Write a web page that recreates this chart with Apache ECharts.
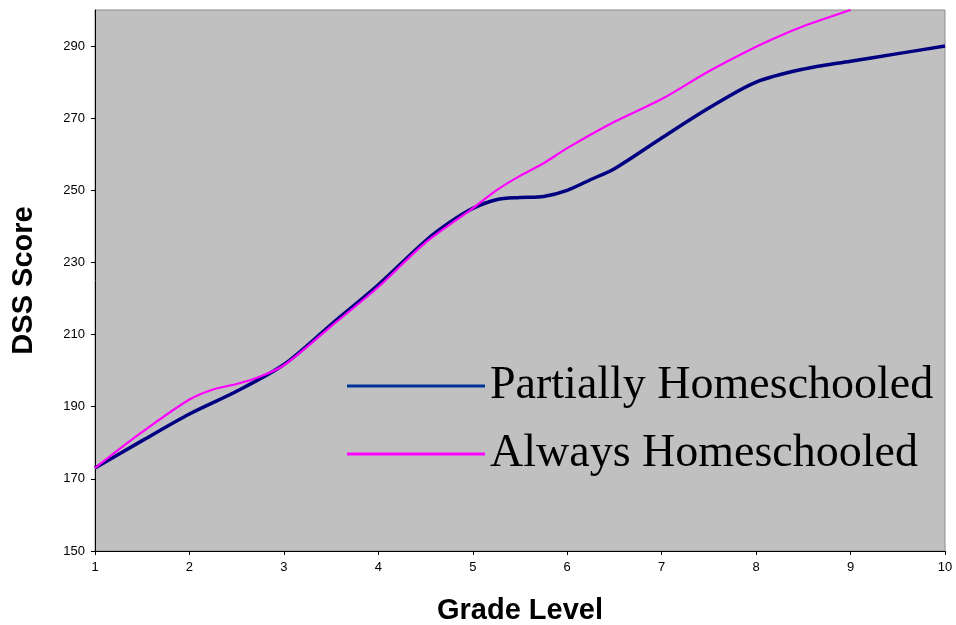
<!DOCTYPE html>
<html>
<head>
<meta charset="utf-8">
<script src="https://cdn.jsdelivr.net/npm/echarts@6/dist/echarts.min.js"></script>
<style>html,body{margin:0;padding:0;background:#fff}#c{width:956px;height:625px}</style>
</head>
<body>
<div id="c"></div>
<script>
const seriesNames = ['Partially Homeschooled', 'Always Homeschooled'];
const partialGrades = [1, 1.5, 2, 2.5, 3, 3.5, 4, 4.5, 4.75, 5, 5.25, 5.5, 5.75, 6, 6.25, 6.5, 7, 7.5, 8, 8.5, 9, 9.5, 10];
const partialScores = [173, 180.6, 188, 194.3, 201.7, 212.8, 223.8, 236, 241, 245, 247.4, 248, 248.3, 250, 253, 256, 264.5, 272.8, 280, 283.6, 285.8, 287.9, 290];
const alwaysGrades = [1, 1.5, 2, 2.25, 2.5, 2.75, 3, 3.5, 4, 4.5, 5, 5.25, 5.5, 5.75, 6, 6.5, 7, 7.5, 8, 8.25, 8.5, 9];
const alwaysScores = [173, 183, 192, 194.8, 196.3, 198.4, 201.5, 212.3, 223.2, 235.5, 245, 250, 254, 257.5, 261.7, 269, 275.3, 283, 289.8, 292.8, 295.5, 300];
const xTicks = [1, 2, 3, 4, 5, 6, 7, 8, 9, 10];

const zip = (a, b) => a.map((v, i) => [v, b[i]]);

const chart = echarts.init(document.getElementById('c'));
chart.setOption({
  animation: false,
  backgroundColor: '#ffffff',
  grid: { left: 95, right: 11, top: 10, bottom: 74, outerBoundsMode: 'none', containLabel: false, show: true, backgroundColor: '#c0c0c0', borderColor: '#8c8c8c', borderWidth: 1 },
  legend: {
    orient: 'vertical', left: 347, top: 362, padding: 0, itemGap: 20,
    icon: 'rect', itemWidth: 138, itemHeight: 3,
    textStyle: { fontFamily: 'Liberation Serif', fontSize: 46, lineHeight: 48, color: '#000' },
    data: [
      { name: seriesNames[0], itemStyle: { color: '#003399' } },
      { name: seriesNames[1], itemStyle: { color: '#ff00ff' } }
    ]
  },
  xAxis: {
    type: 'value', min: xTicks[0], max: xTicks[xTicks.length - 1], interval: 1,
    name: 'Grade Level', nameLocation: 'middle', nameGap: 45,
    nameTextStyle: { fontFamily: 'Liberation Sans', fontWeight: 'bold', fontSize: 29, color: '#000' },
    axisLine: { lineStyle: { color: '#000', width: 1 } },
    axisTick: { show: true, length: 4, lineStyle: { color: '#000' } },
    axisLabel: { fontFamily: 'Liberation Sans', fontSize: 13, color: '#000', margin: 10 },
    splitLine: { show: false }
  },
  yAxis: {
    type: 'value', min: 150, max: 300, interval: 20,
    name: 'DSS Score', nameLocation: 'middle', nameGap: 57,
    nameTextStyle: { fontFamily: 'Liberation Sans', fontWeight: 'bold', fontSize: 29, color: '#000' },
    axisLine: { show: true, lineStyle: { color: '#000', width: 1 } },
    axisTick: { show: true, length: 4, lineStyle: { color: '#000' } },
    axisLabel: { fontFamily: 'Liberation Sans', fontSize: 13, color: '#000', margin: 10, showMaxLabel: false },
    splitLine: { show: false }
  },
  series: [
    { name: seriesNames[0], type: 'line', data: zip(partialGrades, partialScores), smooth: 0.3, showSymbol: false, symbol: 'none',
      lineStyle: { color: '#000080', width: 3.5 }, itemStyle: { color: '#000080' }, z: 2 },
    { name: seriesNames[1], type: 'line', data: zip(alwaysGrades, alwaysScores), smooth: 0.3, showSymbol: false, symbol: 'none',
      lineStyle: { color: '#ff00ff', width: 2.2 }, itemStyle: { color: '#ff00ff' }, z: 3 }
  ]
});
</script>
</body>
</html>
